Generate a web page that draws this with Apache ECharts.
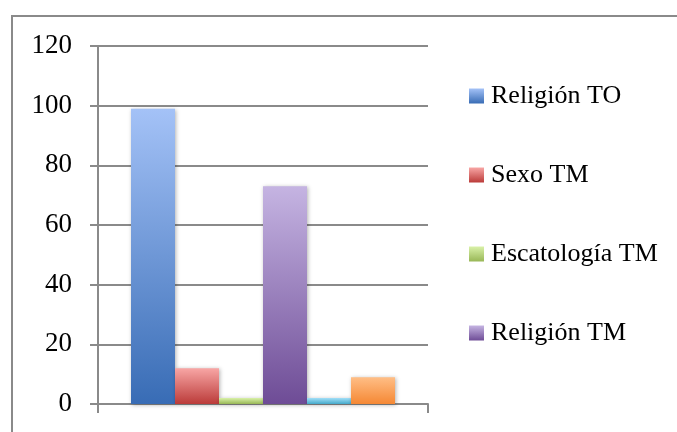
<!DOCTYPE html>
<html>
<head>
<meta charset="utf-8">
<script src="https://cdn.jsdelivr.net/npm/echarts@6/dist/echarts.min.js"></script>
<style>
  html, body { margin: 0; padding: 0; background: #fff; }
  #chart { width: 677px; height: 432px; }
</style>
</head>
<body>
<div id="chart"></div>
<script>
const categories = [''];
const seriesNames = ['Religión TO', 'Sexo TM', 'Escatología TM', 'Religión TM', 'Sexo TO', 'Escatología TO'];
const seriesValues = [[99], [12], [2], [73], [2], [9]];
const legendNames = ['Religión TO', 'Sexo TM', 'Escatología TM', 'Religión TM'];
const yTicks = { min: 0, max: 120, interval: 20 };

// top / bottom colours of each bar gradient
const gradients = [
  ['#a4c2f7', '#386cb5'],
  ['#f8a6a5', '#bb3b39'],
  ['#d9f1a8', '#98b756'],
  ['#c5b4e2', '#6e4c96'],
  ['#a2dff8', '#44a9ca'],
  ['#ffbe86', '#f58834']
];

const font = 'Liberation Serif';
const axisGrey = '#8a8a8a';

const chart = echarts.init(document.getElementById('chart'));

const series = seriesNames.map((name, i) => ({
  name: name,
  type: 'bar',
  data: seriesValues[i],
  barGap: '0%',
  barCategoryGap: '20%',
  itemStyle: {
    color: new echarts.graphic.LinearGradient(0, 0, 0, 1, [
      { offset: 0, color: gradients[i][0] },
      { offset: 1, color: gradients[i][1] }
    ]),
    shadowColor: 'rgba(0,0,0,0.3)',
    shadowBlur: 4,
    shadowOffsetX: 1,
    shadowOffsetY: 1
  }
}));

chart.setOption({
  animation: false,
  backgroundColor: '#fff',
  graphic: [{
    type: 'rect',
    shape: { x: 12, y: 16, width: 700, height: 500 },
    style: { fill: 'none', stroke: axisGrey, lineWidth: 2 },
    silent: true
  }],
  grid: { left: 98, right: 249, top: 46, bottom: 28 },
  legend: {
    data: legendNames,
    orient: 'vertical',
    left: 469,
    top: 83,
    padding: 0,
    icon: 'rect',
    itemWidth: 15,
    itemHeight: 15,
    itemGap: 53,
    textStyle: { fontFamily: font, fontSize: 26, color: '#000', lineHeight: 26, padding: [0, 0, 0, 2] }
  },
  xAxis: {
    type: 'category',
    data: categories,
    axisLine: { lineStyle: { color: axisGrey, width: 2 } },
    axisTick: { show: true, length: 9, lineStyle: { color: axisGrey, width: 2 } },
    axisLabel: { show: false }
  },
  yAxis: {
    type: 'value',
    min: yTicks.min,
    max: yTicks.max,
    interval: yTicks.interval,
    axisLine: { show: true, lineStyle: { color: axisGrey, width: 2 } },
    axisTick: { show: true, length: 8, lineStyle: { color: axisGrey, width: 2 } },
    axisLabel: { fontFamily: font, fontSize: 27, color: '#000', margin: 26 },
    splitLine: { lineStyle: { color: axisGrey, width: 2 } }
  },
  series: series
});
</script>
</body>
</html>
